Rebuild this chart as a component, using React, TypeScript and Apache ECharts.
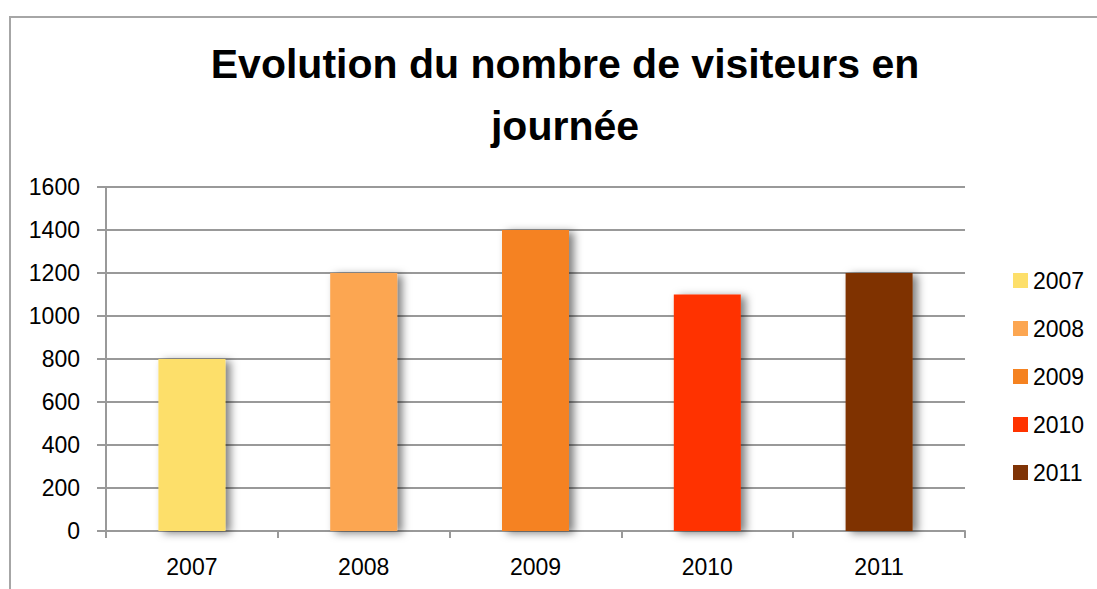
import React, { useEffect, useRef } from "react";
import * as echarts from "echarts";

const categories = ["2007", "2008", "2009", "2010", "2011"];
const values = [800, 1200, 1400, 1100, 1200];
const colors = ["#FDDF6A", "#FCA651", "#F58220", "#FF3300", "#7F3306"];
const yTicks = { min: 0, max: 1600, interval: 200 };
const titleText = "Evolution du nombre de visiteurs en\njournée";

export default function App() {
  const ref = useRef<HTMLDivElement>(null);
  useEffect(() => {
    const chart = echarts.init(ref.current!, null, { renderer: "svg" });
    const font = "'Liberation Sans', Arial, sans-serif";
    const series = categories.map((c, i) => ({
      name: c,
      type: "bar",
      barWidth: "39%",
      barGap: "-100%",
      data: categories.map((_, j) => (j === i ? values[i] : null)),
      itemStyle: {
        color: colors[i],
        shadowColor: "rgba(0,0,0,0.5)",
        shadowBlur: 8,
        shadowOffsetX: 5,
        shadowOffsetY: 2,
      },
    }));
    chart.setOption({
      animation: false,
      textStyle: { fontFamily: font },
      graphic: [
        {
          type: "rect",
          shape: { x: 10, y: 17, width: 1200, height: 700 },
          style: { fill: "none", stroke: "#a6a6a6", lineWidth: 2 },
          silent: true,
        },
      ],
      title: {
        text: titleText,
        left: 560,
        top: 28,
        textAlign: "center",
        textStyle: {
          fontFamily: font,
          fontSize: 41,
          fontWeight: "bold",
          color: "#000",
          lineHeight: 62,
        },
      },
      legend: {
        orient: "vertical",
        left: 1008,
        top: 264,
        itemWidth: 15,
        itemHeight: 15,
        itemGap: 25,
        icon: "rect",
        data: categories,
        textStyle: { fontSize: 23, color: "#000", fontFamily: font },
      },
      grid: { left: 106, top: 187, right: 132, bottom: 58 },
      xAxis: {
        type: "category",
        data: categories,
        axisLine: { lineStyle: { color: "#999", width: 2 } },
        axisTick: { show: true, length: 7, lineStyle: { color: "#999", width: 2 } },
        axisLabel: { fontSize: 23, color: "#000", margin: 24 },
      },
      yAxis: {
        type: "value",
        min: yTicks.min,
        max: yTicks.max,
        interval: yTicks.interval,
        axisLine: { show: true, lineStyle: { color: "#999", width: 2 } },
        axisTick: { show: true, length: 9, lineStyle: { color: "#999", width: 2 } },
        splitLine: { lineStyle: { color: "#999", width: 2 } },
        axisLabel: { fontSize: 23, color: "#000", margin: 26, formatter: (v: number) => String(v) },
      },
      series,
    });
    return () => chart.dispose();
  }, []);
  return (
    <div
      ref={ref}
      style={{ position: "absolute", left: 0, top: 0, width: 1097, height: 589, background: "#fff" }}
    />
  );
}
